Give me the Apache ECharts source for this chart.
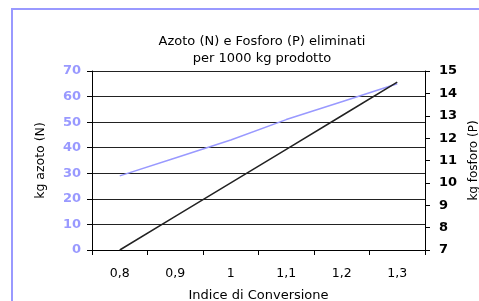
<!DOCTYPE html>
<html>
<head>
<meta charset="utf-8">
<script src="https://cdn.jsdelivr.net/npm/echarts@6/dist/echarts.min.js"></script>
<style>
  html, body { margin: 0; padding: 0; background: #fff; }
  #chart { width: 479px; height: 301px; }
</style>
</head>
<body>
<div id="chart"></div>
<script>
const categories = ['0,8', '0,9', '1', '1,1', '1,2', '1,3'];
const azoto = [29, 36, 43, 51, 58, 65];        // kg N, left axis
const fosforo = [7, 8.5, 10, 11.5, 13, 14.5];  // kg P, right axis

const FONT = 'DejaVu Sans';
const BLUE = '#9999ff';

const chart = echarts.init(document.getElementById('chart'), null, { renderer: 'canvas' });

const option = {
  backgroundColor: '#fff',
  animation: false,
  title: {
    text: 'Azoto (N) e Fosforo (P) eliminati\nper 1000 kg prodotto',
    left: 257,
    textAlign: 'center',
    top: 28,
    textStyle: { fontFamily: FONT, fontSize: 13, fontWeight: 'normal', color: '#000', lineHeight: 17 }
  },
  graphic: [{
    type: 'rect',
    shape: { x: 12, y: 9, width: 500, height: 400 },
    style: { fill: 'none', stroke: BLUE, lineWidth: 2 },
    silent: true
  }],
  grid: { left: 92, right: 54, top: 71, bottom: 51, outerBoundsMode: 'none' },
  xAxis: {
    type: 'category',
    data: categories,
    boundaryGap: true,
    name: 'Indice di Conversione',
    nameLocation: 'middle',
    nameGap: 39,
    nameTextStyle: { fontFamily: FONT, fontSize: 13, color: '#000' },
    axisLine: { lineStyle: { color: '#000', width: 1 } },
    axisTick: { show: true, length: 5, lineStyle: { color: '#000' } },
    axisLabel: { fontFamily: FONT, fontSize: 12.5, color: '#000', margin: 17 }
  },
  yAxis: [{
    type: 'value',
    min: 0,
    max: 70,
    interval: 10,
    position: 'left',
    name: 'kg azoto (N)',
    nameLocation: 'middle',
    nameRotate: 90,
    nameGap: 45,
    nameTextStyle: { fontFamily: FONT, fontSize: 12.5, color: '#000' },
    axisLine: { show: true, lineStyle: { color: '#000' } },
    axisTick: { show: true, length: 5, lineStyle: { color: '#000' } },
    axisLabel: { fontFamily: FONT, fontSize: 13, fontWeight: 'bold', color: BLUE, margin: 11 },
    splitLine: { show: true, lineStyle: { color: '#222', width: 1 } }
  }, {
    type: 'value',
    min: 7,
    max: 15,
    interval: 1,
    position: 'right',
    name: 'kg fosforo (P)',
    nameLocation: 'middle',
    nameRotate: 90,
    nameGap: 39,
    nameTextStyle: { fontFamily: FONT, fontSize: 12, color: '#000' },
    axisLine: { show: true, lineStyle: { color: '#000' } },
    axisTick: { show: true, length: 5, lineStyle: { color: '#000' } },
    axisLabel: { fontFamily: FONT, fontSize: 13, fontWeight: 'bold', color: '#000', margin: 14 },
    splitLine: { show: false }
  }],
  series: [{
    name: 'Azoto',
    type: 'line',
    yAxisIndex: 0,
    data: azoto,
    showSymbol: false,
    lineStyle: { color: BLUE, width: 1.5 },
    itemStyle: { color: BLUE }
  }, {
    name: 'Fosforo',
    type: 'line',
    yAxisIndex: 1,
    data: fosforo,
    showSymbol: false,
    lineStyle: { color: '#222', width: 1.5 },
    itemStyle: { color: '#222' }
  }]
};

chart.setOption(option);
</script>
</body>
</html>
